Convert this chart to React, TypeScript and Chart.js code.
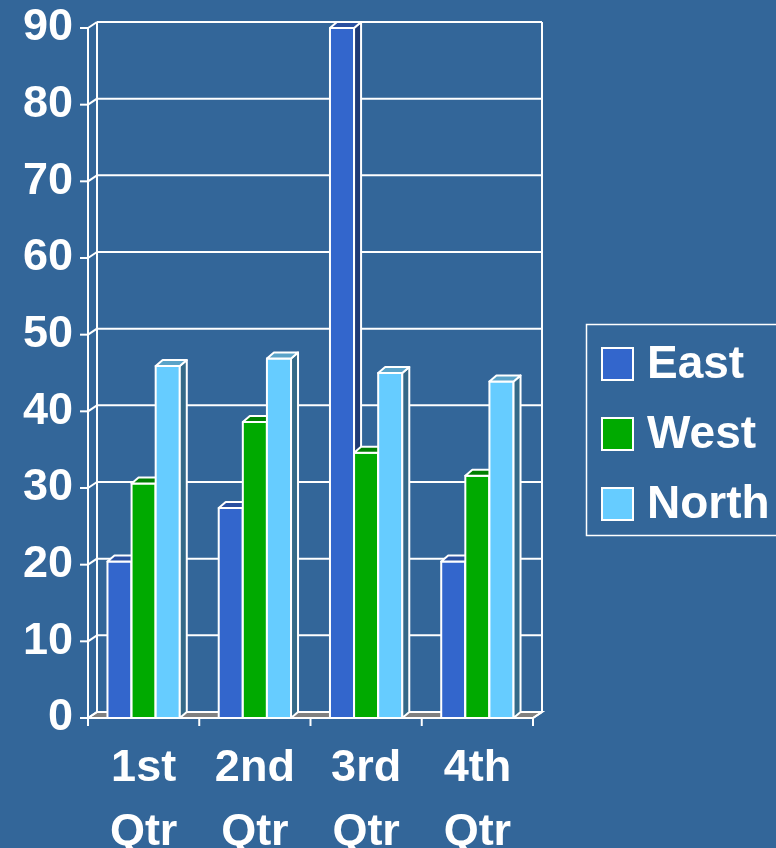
import React, { useEffect, useRef } from "react";
import { Chart, registerables } from "chart.js";

Chart.register(...registerables);

const categories: string[][] = [["1st", "Qtr"], ["2nd", "Qtr"], ["3rd", "Qtr"], ["4th", "Qtr"]];
const seriesNames = ["East", "West", "North"];
const eastValues = [20.4, 27.4, 90, 20.4];
const westValues = [30.6, 38.6, 34.6, 31.6];
const northValues = [45.9, 46.9, 45, 43.9];
const yMin = 0;
const yMax = 90;
const yStep = 10;

const frontColors = ["#3366CC", "#00AA00", "#66CCFF"];
const topColors = ["#2A50A0", "#007F00", "#5AA3C8"];
const sideColors = ["#1F3A75", "#005A00", "#356A88"];
const BG = "#336699";
const FONT = '"Liberation Sans", Arial, sans-serif';

// depth offsets
const WDX = 9, WDY = 6;
const BDX = 7, BDY = 6;

const bgPlugin = {
  id: "bg",
  beforeDraw(chart: any) {
    const { ctx, width, height } = chart;
    ctx.save();
    ctx.fillStyle = BG;
    ctx.fillRect(0, 0, width, height);
    ctx.restore();
  },
};

const framePlugin = {
  id: "frame3d",
  beforeDatasetsDraw(chart: any) {
    const { ctx, chartArea, scales } = chart;
    const { left, right, top, bottom } = chartArea;
    const y = scales.y;
    ctx.save();
    ctx.strokeStyle = "#FFFFFF";
    ctx.lineWidth = 2;
    ctx.lineJoin = "miter";
    const line = (x1: number, y1: number, x2: number, y2: number) => {
      ctx.beginPath();
      ctx.moveTo(x1, y1);
      ctx.lineTo(x2, y2);
      ctx.stroke();
    };
    // floor
    ctx.fillStyle = "#808080";
    ctx.beginPath();
    ctx.moveTo(left, bottom);
    ctx.lineTo(left + WDX, bottom - WDY);
    ctx.lineTo(right + WDX, bottom - WDY);
    ctx.lineTo(right, bottom);
    ctx.closePath();
    ctx.fill();
    ctx.stroke();
    // gridlines
    y.ticks.forEach((t: any) => {
      const py = y.getPixelForValue(t.value);
      line(left + WDX, py - WDY, right + WDX, py - WDY);
      line(left, py, left + WDX, py - WDY);
      line(left - 8, py, left, py);
    });
    // walls edges
    line(left + WDX, top - WDY, left + WDX, bottom - WDY);
    line(right + WDX, top - WDY, right + WDX, bottom - WDY);
    line(left, top, left, bottom + 8);
    // bottom axis
    line(left - 8, bottom, right, bottom);
    const n = categories.length;
    for (let i = 0; i <= n; i++) {
      const px = left + (i * (right - left)) / n;
      line(px, bottom, px, bottom + 8);
    }
    line(right, bottom, right + WDX, bottom - WDY);
    ctx.restore();
  },
};

const barsPlugin = {
  id: "bars3d",
  afterDatasetsDraw(chart: any) {
    const { ctx } = chart;
    const metas = chart.data.datasets.map((_: any, i: number) => chart.getDatasetMeta(i));
    ctx.save();
    ctx.strokeStyle = "#FFFFFF";
    ctx.lineWidth = 2;
    ctx.lineJoin = "round";
    for (let c = 0; c < categories.length; c++) {
      metas.forEach((meta: any, d: number) => {
        const el = meta.data[c];
        if (!el) return;
        const { x, y, base, width } = el.getProps(["x", "y", "base", "width"], true);
        const l = x - width / 2;
        const r = x + width / 2;
        // front
        ctx.fillStyle = frontColors[d];
        ctx.beginPath();
        ctx.rect(l, y, r - l, base - y);
        ctx.fill();
        ctx.stroke();
        // side
        ctx.fillStyle = sideColors[d];
        ctx.beginPath();
        ctx.moveTo(r, y);
        ctx.lineTo(r + BDX, y - BDY);
        ctx.lineTo(r + BDX, base - BDY);
        ctx.lineTo(r, base);
        ctx.closePath();
        ctx.fill();
        ctx.stroke();
        // top
        ctx.fillStyle = topColors[d];
        ctx.beginPath();
        ctx.moveTo(l, y);
        ctx.lineTo(l + BDX, y - BDY);
        ctx.lineTo(r + BDX, y - BDY);
        ctx.lineTo(r, y);
        ctx.closePath();
        ctx.fill();
        ctx.stroke();
      });
    }
    ctx.restore();
  },
};

const legendPlugin = {
  id: "legendBox",
  afterDraw(chart: any) {
    const { ctx } = chart;
    ctx.save();
    ctx.strokeStyle = "#FFFFFF";
    ctx.lineWidth = 1.5;
    ctx.strokeRect(586.5, 324.5, 220, 211);
    ctx.font = `bold 46px ${FONT}`;
    ctx.textBaseline = "middle";
    ctx.textAlign = "left";
    chart.data.datasets.forEach((ds: any, i: number) => {
      const cy = 364 + i * 70;
      ctx.fillStyle = frontColors[i];
      ctx.lineWidth = 2;
      ctx.fillRect(602, cy - 16, 31, 32);
      ctx.strokeRect(602, cy - 16, 31, 32);
      ctx.fillStyle = "#FFFFFF";
      ctx.fillText(ds.label, 647, cy + 1);
    });
    ctx.restore();
  },
};

export default function App() {
  const ref = useRef<HTMLCanvasElement | null>(null);
  useEffect(() => {
    document.body.style.margin = "0";
    document.body.style.background = BG;
    if (!ref.current) return;
    const seriesValues = [eastValues, westValues, northValues];
    const chart = new Chart(ref.current, {
      type: "bar",
      data: {
        labels: categories,
        datasets: seriesNames.map((name, i) => ({
          label: name,
          data: seriesValues[i],
          backgroundColor: frontColors[i],
          borderColor: "#FFFFFF",
          borderWidth: 2,
          categoryPercentage: 0.65,
          barPercentage: 1.0,
        })),
      },
      options: {
        animation: false,
        responsive: true,
        maintainAspectRatio: false,
        layout: { padding: { top: 28, right: 243, left: 0, bottom: 0 } },
        plugins: { legend: { display: false }, tooltip: { enabled: false } },
        scales: {
          x: {
            grid: { display: false, drawTicks: false },
            border: { display: false },
            ticks: {
              color: "#FFFFFF",
              padding: 19,
              maxRotation: 0,
              autoSkip: false,
              font: { family: FONT, size: 45, weight: "bold", lineHeight: 1.42 },
            },
            afterFit: (s: any) => {
              s.height = 130;
              s.paddingLeft = 0;
              s.paddingRight = 0;
              s.paddingTop = 0;
              s.paddingBottom = 0;
            },
          },
          y: {
            min: yMin,
            max: yMax,
            grid: { display: false, drawTicks: false },
            border: { display: false },
            ticks: {
              stepSize: yStep,
              color: "#FFFFFF",
              padding: 15,
              font: { family: FONT, size: 45, weight: "bold" },
            },
            afterFit: (s: any) => {
              s.width = 88;
              s.paddingTop = 0;
              s.paddingBottom = 0;
              s.paddingLeft = 0;
              s.paddingRight = 0;
            },
          },
        },
      },
      plugins: [bgPlugin, framePlugin, barsPlugin, legendPlugin],
    });
    return () => chart.destroy();
  }, []);
  return (
    <div style={{ width: 776, height: 848, position: "relative" }}>
      <canvas ref={ref} />
    </div>
  );
}
